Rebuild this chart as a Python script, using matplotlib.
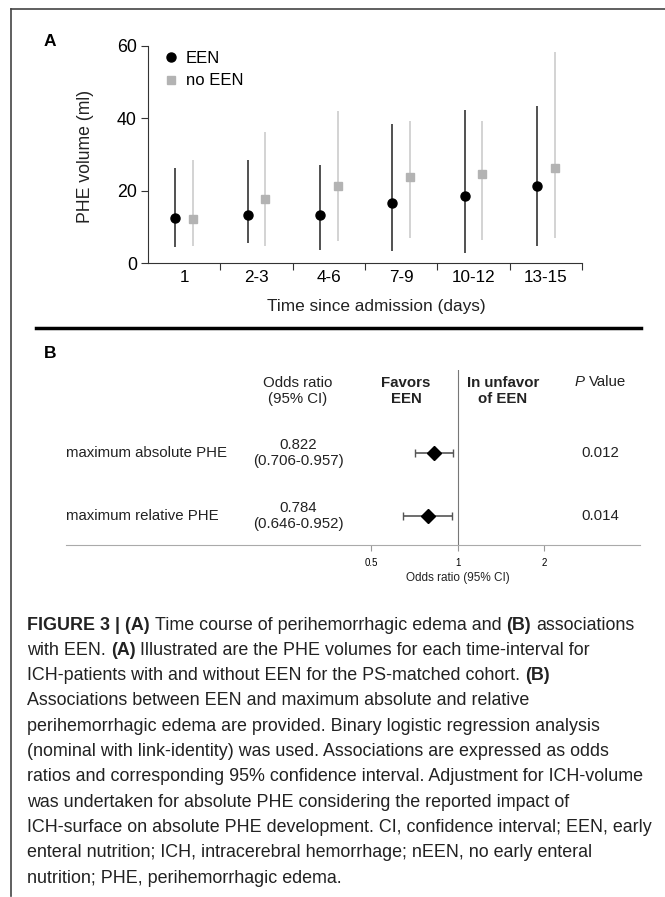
import numpy as np
import matplotlib.pyplot as plt
from matplotlib.lines import Line2D

plt.rcParams['font.family'] = ['Liberation Sans', 'DejaVu Sans']

W, H = 665, 897

# panel A: PHE volume per time interval (median and range, ml)
days = ['1', '2-3', '4-6', '7-9', '10-12', '13-15']
een_mid = [12.4, 13.2, 13.2, 16.7, 18.4, 21.4]
een_low = [4.4, 5.4, 3.7, 3.2, 2.8, 4.8]
een_high = [26.2, 28.5, 27.1, 38.5, 42.3, 43.4]
neen_mid = [12.2, 17.8, 21.4, 23.8, 24.7, 26.4]
neen_low = [4.8, 4.6, 6.2, 7.0, 6.4, 7.0]
neen_high = [28.5, 36.1, 41.9, 39.3, 39.3, 58.4]

# panel B: odds ratios
outcomes = ['maximum absolute PHE', 'maximum relative PHE']
odds = [0.822, 0.784]
ci_low = [0.706, 0.646]
ci_high = [0.957, 0.952]
p_vals = ['0.012', '0.014']
or_ticks = [0.5, 1, 2]

caption = [
    [('FIGURE 3 | (A)', 'b'), ('Time course of perihemorrhagic edema and', 'n'), ('(B)', 'b'), ('associations', 'n')],
    [('with EEN.', 'n'), ('(A)', 'b'), ('Illustrated are the PHE volumes for each time-interval for', 'n')],
    [('ICH-patients with and without EEN for the PS-matched cohort.', 'n'), ('(B)', 'b')],
    [('Associations between EEN and maximum absolute and relative', 'n')],
    [('perihemorrhagic edema are provided. Binary logistic regression analysis', 'n')],
    [('(nominal with link-identity) was used. Associations are expressed as odds', 'n')],
    [('ratios and corresponding 95% confidence interval. Adjustment for ICH-volume', 'n')],
    [('was undertaken for absolute PHE considering the reported impact of', 'n')],
    [('ICH-surface on absolute PHE development. CI, confidence interval; EEN, early', 'n')],
    [('enteral nutrition; ICH, intracerebral hemorrhage; nEEN, no early enteral', 'n')],
    [('nutrition; PHE, perihemorrhagic edema.', 'n')],
]
styles = {'n': {}, 'b': {'weight': 'bold'}, 'i': {'style': 'italic'}}


def fx(x):
    return x / W


def fy(y):
    return 1 - y / H


def box(x0, y0, x1, y1):
    return [x0 / W, 1 - y1 / H, (x1 - x0) / W, (y1 - y0) / H]


fig = plt.figure(figsize=(W / 100, H / 100), dpi=100)
renderer = fig.canvas.get_renderer()


def space_width(size, style):
    a = fig.text(0, 0, 'a a', fontsize=size, **style)
    b = fig.text(0, 0, 'aa', fontsize=size, **style)
    w = a.get_window_extent(renderer).width - b.get_window_extent(renderer).width
    a.remove()
    b.remove()
    return w


def text_runs(x, y, runs, size, color='#222'):
    for s, st in runs:
        t = fig.text(fx(x), fy(y), s, fontsize=size, ha='left', va='center',
                     color=color, **styles[st])
        x = t.get_window_extent(renderer).x1 + space_width(size, styles[st])


# outer frame
fig.add_artist(Line2D([fx(11), fx(11)], [fy(9), fy(896)], color='#444', lw=1.2))
fig.add_artist(Line2D([fx(11), 1], [fy(9), fy(9)], color='#444', lw=1.2))

# ---------------- panel A ----------------
ax = fig.add_axes(box(148, 46, 582, 263))
x = np.arange(len(days))
off = 0.12
ax.vlines(x - off, een_low, een_high, color='#222', lw=1.1)
ax.vlines(x + off, neen_low, neen_high, color='#c8c8c8', lw=1.1)
ax.plot(x - off, een_mid, 'o', color='black', ms=6.5, label='EEN')
ax.plot(x + off, neen_mid, 's', color='#b3b3b3', ms=6, label='no EEN')
ax.set_xlim(-0.5, len(days) - 0.5)
ax.set_ylim(0, 60)
ax.set_yticks([0, 20, 40, 60])
ax.set_xticks(x + 0.5)
ax.set_xticklabels([])
ax.set_xticks(x, minor=True)
ax.set_xticklabels(days, minor=True)
ax.tick_params(axis='x', which='minor', length=0, pad=5, labelsize=12.3)
ax.tick_params(axis='x', which='major', length=5, color='#333')
ax.tick_params(axis='y', length=5, pad=3, labelsize=12.8, color='#333')
for s in ['top', 'right']:
    ax.spines[s].set_visible(False)
for s in ['left', 'bottom']:
    ax.spines[s].set_color('#333')
ax.legend(loc='upper left', bbox_to_anchor=(0.033, 0.977), frameon=False,
          fontsize=12, handlelength=1.0, handletextpad=0.4, labelspacing=0.45,
          borderpad=0, borderaxespad=0)

fig.text(fx(50), fy(42), 'A', fontsize=12.5, weight='bold', ha='center', va='center')
fig.text(fx(85), fy(156), 'PHE volume (ml)', fontsize=12.7, rotation=90,
         ha='center', va='center', color='#222')
fig.text(fx(376), fy(306), 'Time since admission (days)', fontsize=12.4,
         ha='center', va='center', color='#222')

fig.add_artist(Line2D([fx(36), fx(641)], [fy(328), fy(328)], color='black', lw=2.5))

# ---------------- panel B ----------------
fig.text(fx(50), fy(353), 'B', fontsize=12.5, weight='bold', ha='center', va='center')

bx = fig.add_axes(box(66, 370, 640, 545))
bx.set_xscale('log', base=2)
bx.set_xlim(2 ** ((66 - 458) / 86.5), 2 ** ((640 - 458) / 86.5))
rows = np.arange(len(outcomes))
bx.set_ylim(1.46, -1.317)
bx.errorbar(odds, rows,
            xerr=[np.array(odds) - np.array(ci_low), np.array(ci_high) - np.array(odds)],
            fmt='D', color='black', ms=7, ecolor='#555', elinewidth=1.2,
            capsize=3, capthick=1)
bx.axvline(1, color='#777', lw=0.8)
bx.set_xticks(or_ticks)
bx.set_xticklabels(['%g' % t for t in or_ticks])
bx.xaxis.set_minor_locator(plt.NullLocator())
bx.set_yticks([])
bx.tick_params(axis='x', length=4, color='#999', labelsize=7, pad=5)
for s in ['top', 'right', 'left']:
    bx.spines[s].set_visible(False)
bx.spines['bottom'].set_color('#aaa')
fig.text(fx(458), fy(578), 'Odds ratio (95% CI)', fontsize=8.5, ha='center', va='center', color='#222')

fig.text(fx(298), fy(391), 'Odds ratio\n(95% CI)', fontsize=10.8, ha='center', va='center', color='#222')
fig.text(fx(406), fy(391), 'Favors\nEEN', fontsize=10.8, weight='bold', ha='center', va='center', color='#222')
fig.text(fx(503), fy(391), 'In unfavor\nof EEN', fontsize=10.8, weight='bold', ha='center', va='center', color='#222')
text_runs(575, 382, [('P', 'i'), ('Value', 'n')], 10.8)

row_y = [453, 516]
for i in range(len(outcomes)):
    fig.text(fx(66), fy(row_y[i]), outcomes[i], fontsize=10.8, ha='left', va='center', color='#222')
    fig.text(fx(298), fy(row_y[i]), '%.3f\n(%.3f-%.3f)' % (odds[i], ci_low[i], ci_high[i]),
             fontsize=10.8, ha='center', va='center', color='#222')
    fig.text(fx(600), fy(row_y[i]), p_vals[i], fontsize=10.8, ha='center', va='center', color='#222')

# ---------------- caption ----------------
for k, line in enumerate(caption):
    text_runs(27, 625 + k * 25.3, line, 12.9)

fig.savefig('out.png', dpi=100)
